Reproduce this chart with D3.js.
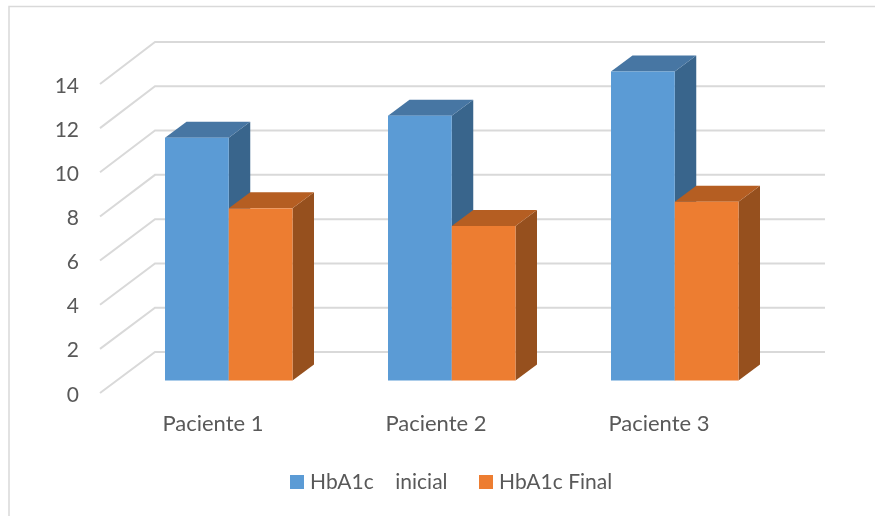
<!DOCTYPE html>
<html><head><meta charset="utf-8">
<script src="https://cdn.jsdelivr.net/npm/d3@7"></script>
<style>html,body{margin:0;padding:0;background:#fff}svg{display:block;filter:blur(0.35px)}text{font-family:Lato,"Open Sans",sans-serif;fill:#595959}</style>
</head><body><svg id="c" width="875" height="516"></svg>
<script>
const categories = ["Paciente 1","Paciente 2","Paciente 3"];
const seriesNames = ["HbA1c    inicial","HbA1c Final"];
const inicial = [11,12,14];
const final_ = [7.8,7,8.1];
const ticks = [0,2,4,6,8,10,12,14];
const colors = ["#5b9bd5","#ed7d31"];
const topColors = ["#4776a3","#b55e22"];
const sideColors = ["#39658c","#96501e"];

const svg = d3.select("#c");
svg.append("rect").attr("x",9).attr("y",6.5).attr("width",890).attr("height",560)
  .attr("fill","#fff").attr("stroke","#d9d9d9").attr("stroke-width",1.5);

const x0 = d3.scaleBand().domain(categories).range([117.25,786.25]).paddingInner(0).paddingOuter(0);
const inner = d3.scaleBand().domain([0,1]).range([47.75,175.25]);
const yBar = d3.scaleLinear().domain([0,14]).range([380.5,71.5]);
const yBack = d3.scaleLinear().domain([0,14]).range([352,42]);
const yFront = d3.scaleLinear().domain([0,14]).range([393,84]);
const dx=21.5, dy=-16;

// gridlines
const gx0=100, gx1=155, gx2=825;
const grid = svg.append("g").attr("fill","none").attr("stroke","#d9d9d9").attr("stroke-width",2);
grid.selectAll("path").data(ticks).join("path")
  .attr("d",t=>`M${gx0},${yFront(t)}L${gx1},${yBack(t)}H${gx2}`);

// tick labels
svg.append("g").selectAll("text").data(ticks).join("text")
  .attr("x",79).attr("y",t=>yFront(t)+1).attr("dy","0.36em").attr("text-anchor","end")
  .attr("font-size",21).text(t=>t);

// bars
const rows = categories.map((c,i)=>[{c,s:0,v:inicial[i]},{c,s:1,v:final_[i]}]);
const g = svg.append("g");
rows.forEach(r=>{
  r.forEach(d=>{
    const l=x0(d.c)+inner(d.s), w=inner.bandwidth(), t=yBar(d.v), b=yBar(0);
    const bar=g.append("g");
    bar.append("path").attr("fill",sideColors[d.s])
      .attr("d",`M${l+w},${t}l${dx},${dy}V${b+dy}l${-dx},${-dy}Z`);
    bar.append("path").attr("fill",topColors[d.s])
      .attr("d",`M${l},${t}l${dx},${dy}h${w}l${-dx},${-dy}Z`);
    bar.append("rect").attr("x",l).attr("y",t).attr("width",w).attr("height",b-t).attr("fill",colors[d.s]);
  });
});

// category labels
svg.append("g").selectAll("text").data(categories).join("text")
  .attr("x",c=>x0(c)+95.75).attr("y",431).attr("text-anchor","middle")
  .attr("font-size",22).text(c=>c);

// legend
const lx=[290,479], tx=[310,499];
const lg=svg.append("g");
seriesNames.forEach((n,i)=>{
  lg.append("rect").attr("x",lx[i]).attr("y",475).attr("width",14).attr("height",14).attr("fill",colors[i]);
  lg.append("text").attr("x",tx[i]).attr("y",489).attr("font-size",21).attr("xml:space","preserve").style("white-space","pre").text(n);
});
</script></body></html>
